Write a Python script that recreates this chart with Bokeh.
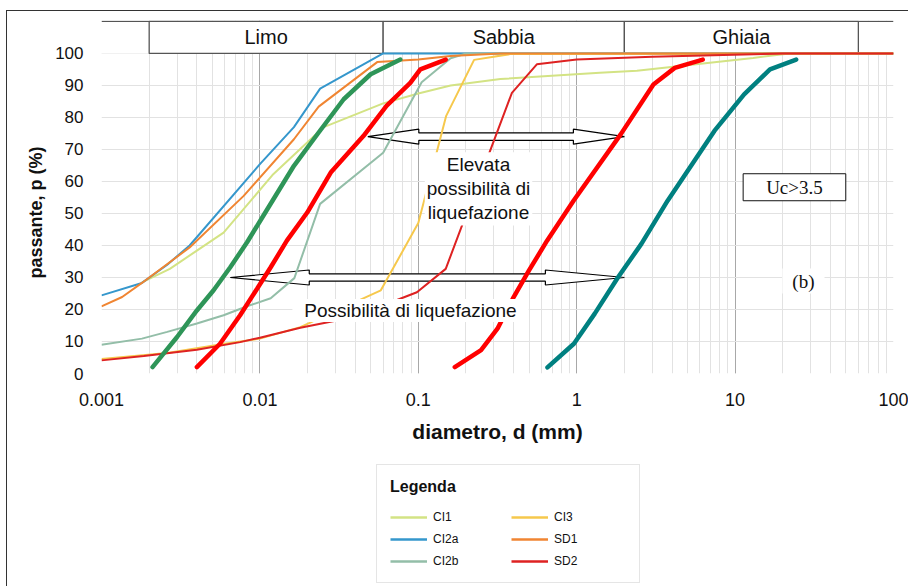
import math
from bokeh.plotting import figure
from bokeh.layouts import column
from bokeh.models import (Range1d, FixedTicker, CustomJSTickFormatter, Label, Span,
                          Legend, LegendItem, Title)
from bokeh.core.properties import value
from bokeh.embed import file_html
from bokeh.resources import INLINE

# ---------------- data ----------------
CI1_d = [0.0018, 0.0027, 0.004, 0.0059, 0.012, 0.0253, 0.06, 0.1, 0.16, 0.33, 1.4, 2.4, 13, 22, 100]
CI1_p = [28.5, 32.7, 38.4, 44.0, 62.0, 77.0, 84.4, 87.5, 90.0, 92.0, 94.0, 94.6, 98.6, 100, 100]

CI2a_d = [0.001, 0.0018, 0.0026, 0.0036, 0.01, 0.0164, 0.024, 0.06, 100]
CI2a_p = [24.4, 28.3, 34.0, 40.0, 65.4, 77.0, 89.0, 100, 100]

CI2b_d = [0.001, 0.0018, 0.0026, 0.004, 0.0059, 0.0083, 0.0117, 0.0165, 0.024, 0.06, 0.105, 0.16, 0.2, 100]
CI2b_p = [9.0, 10.9, 13.0, 15.6, 18.2, 21.0, 23.5, 29.8, 53.0, 69.0, 91.0, 98.5, 100, 100]

CI3_d = [0.001, 0.0026, 0.006, 0.01, 0.018, 0.058, 0.1, 0.15, 0.225, 0.38, 100]
CI3_p = [4.5, 6.4, 9.3, 10.9, 14.5, 26.0, 47.0, 80.5, 98.0, 99.8, 100]

SD1_d = [0.001, 0.00135, 0.0018, 0.0036, 0.0079, 0.0164, 0.0235, 0.055, 0.1, 0.16, 0.33, 100]
SD1_p = [21.0, 23.9, 28.3, 39.4, 55.5, 73.2, 83.4, 97.3, 98.1, 99.2, 100, 100]

SD2_d = [0.001, 0.00185, 0.004, 0.0075, 0.01, 0.018, 0.03, 0.058, 0.098, 0.149, 0.39, 0.56, 1.0, 3.0, 20, 100]
SD2_p = [4.1, 5.5, 7.4, 9.8, 11.2, 14.3, 16.5, 21.0, 25.4, 32.7, 87.7, 96.6, 98.1, 99.0, 100, 100]

# boundary curves (no legend)
GREEN_d = [0.0021, 0.003, 0.004, 0.0051, 0.0065, 0.0083, 0.0103, 0.0164, 0.0235, 0.0338, 0.05, 0.077]
GREEN_p = [2, 11.4, 19.7, 26, 33.2, 41, 48.6, 64.9, 75.3, 85.7, 93.5, 98.1]

RED1_d = [0.004, 0.0056, 0.0075, 0.0096, 0.0117, 0.0148, 0.0199, 0.028, 0.045, 0.063, 0.089, 0.103, 0.149]
RED1_p = [2, 9.3, 18.2, 26.5, 33.2, 41.5, 50.3, 62.8, 74.2, 83.6, 90.8, 95.0, 98.1]

RED2_d = [0.17, 0.249, 0.316, 0.4, 0.5, 0.65, 0.955, 1.9, 3.05, 4.16, 6.25]
RED2_p = [2, 7.3, 14, 23.9, 32.2, 41.5, 54, 74.8, 90.3, 95.5, 98.1]

TEAL_d = [0.654, 0.96, 1.3, 1.82, 2.56, 3.75, 7.4, 11.4, 16.6, 24.3]
TEAL_p = [1.9, 9.3, 18.7, 30, 40.5, 54, 75.8, 87.2, 95, 98.1]

# soil classes band
BAND_NAMES = ["Limo", "Sabbia", "Ghiaia"]
BAND_LIMITS = [0.002, 0.06, 2, 60]

# arrows
ARROW_FROM = [0.048, 0.0065]
ARROW_TO = [2.0, 2.0]
ARROW_Y = [74, 30]

Y_TICKS = [0, 10, 20, 30, 40, 50, 60, 70, 80, 90, 100]

# ---------------- layout / style ----------------
W, H1, H2 = 901, 440, 135
MB_L, MB_R, MB_T, MB_B = 94, 15, 9, 78
X_MIN, X_MAX = 0.001, 100
Y_MAX = 110.3
BAND_BOTTOM, BAND_TOP = 100, 110
SANS = "Liberation Sans"
SERIF = "Liberation Serif"
INK = "#111111"

p = figure(width=W, height=H1, x_axis_type="log",
           x_range=Range1d(X_MIN, X_MAX), y_range=Range1d(0, Y_MAX),
           output_backend="svg", toolbar_location=None,
           min_border_left=MB_L, min_border_right=MB_R,
           min_border_top=MB_T, min_border_bottom=MB_B)
p.outline_line_color = None
p.background_fill_color = "white"
p.border_fill_color = "white"

# grids
p.xgrid.grid_line_color = "#a8a8a8"
p.xgrid.minor_grid_line_color = "#e2e2e2"
p.ygrid.ticker = FixedTicker(ticks=Y_TICKS)
p.ygrid.grid_line_color = "#e2e2e2"

# axes
for ax in (p.xaxis[0], p.yaxis[0]):
    ax.axis_line_color = None
    ax.major_tick_line_color = None
    ax.minor_tick_line_color = None
    ax.major_label_text_font = SANS
    ax.major_label_text_color = INK
p.xaxis.major_label_text_font_size = "18px"
p.xaxis.major_label_standoff = 13
p.xaxis.formatter = CustomJSTickFormatter(code="return parseFloat(tick.toPrecision(6)).toString();")
p.xaxis.axis_label = "diametro, d (mm)"
p.xaxis.axis_label_text_font = SANS
p.xaxis.axis_label_text_font_style = "bold"
p.xaxis.axis_label_text_font_size = "21px"
p.xaxis.axis_label_standoff = 11
p.xaxis.axis_label_text_color = INK

p.yaxis.ticker = FixedTicker(ticks=Y_TICKS)
p.yaxis.major_label_text_font_size = "17px"
p.yaxis.major_label_standoff = 12

# y-axis title, placed along the 0-100 part of the scale
p.add_layout(Title(text="passante, p (%)", align="left", offset=95, standoff=14,
                   text_font=SANS, text_font_style="bold", text_font_size="18px",
                   text_color=INK), "left")

# band on top of the chart
p.quad(left=[X_MIN], right=[X_MAX], bottom=[BAND_BOTTOM], top=[Y_MAX],
       fill_color="white", line_color=None)
p.add_layout(Span(location=BAND_TOP, dimension="width", line_color="#555555", line_width=1.3))
p.quad(left=BAND_LIMITS[:-1], right=BAND_LIMITS[1:], bottom=BAND_BOTTOM, top=BAND_TOP,
       fill_color="white", line_color="#555555", line_width=1.3)
band_centers = [math.sqrt(a * b) for a, b in zip(BAND_LIMITS[:-1], BAND_LIMITS[1:])]
p.text(x=band_centers, y=[(BAND_BOTTOM + BAND_TOP) / 2] * len(BAND_NAMES), text=BAND_NAMES,
       text_align="center", text_baseline="middle", text_font=value(SANS),
       text_font_size="20px", text_color=INK)

# hollow double arrows
ppd = (W - MB_L - MB_R) / math.log10(X_MAX / X_MIN)
ppy = (H1 - MB_T - MB_B) / Y_MAX
HEAD_LEN = [51, 79]
HEAD_HALF, SHAFT_HALF = 7.5, 3.7
for xa, xb, y0, hl_px in zip(ARROW_FROM, ARROW_TO, ARROW_Y, HEAD_LEN):
    la, lb = math.log10(xa), math.log10(xb)
    hl = hl_px / ppd
    hh = HEAD_HALF / ppy
    sh = SHAFT_HALF / ppy
    lx = [la, la + hl, la + hl, lb - hl, lb - hl, lb, lb - hl, lb - hl, la + hl, la + hl]
    ly = [y0, y0 + hh, y0 + sh, y0 + sh, y0 + hh, y0, y0 - hh, y0 - sh, y0 - sh, y0 - hh]
    p.patch([10 ** v for v in lx], ly, fill_color="white", line_color="black", line_width=1.2)

# curves
thin = [("CI1", CI1_d, CI1_p, "#d3e384"),
        ("CI2a", CI2a_d, CI2a_p, "#3597cc"),
        ("CI2b", CI2b_d, CI2b_p, "#93bea8"),
        ("CI3", CI3_d, CI3_p, "#f6c84c"),
        ("SD1", SD1_d, SD1_p, "#f08532"),
        ("SD2", SD2_d, SD2_p, "#de2222")]
for name, xs, ys, col in thin:
    p.line(xs, ys, line_color=col, line_width=2)

p.line(GREEN_d, GREEN_p, line_color="#2e9558", line_width=4.5, line_cap="round")
p.line(RED1_d, RED1_p, line_color="#ff0000", line_width=4.5, line_cap="round")
p.line(RED2_d, RED2_p, line_color="#ff0000", line_width=4.5, line_cap="round")
p.line(TEAL_d, TEAL_p, line_color="#008080", line_width=4.5, line_cap="round")

# annotations
p.add_layout(Label(x=0.24, y=57.7, text="Elevata\npossibilità di\nliquefazione",
                   text_align="center", text_baseline="middle", text_font=SANS,
                   text_font_size="19px", text_line_height=1.15, text_color=INK,
                   background_fill_color="white", padding=2))
p.add_layout(Label(x=0.0893, y=19.7, text="Possibilità di liquefazione",
                   text_align="center", text_baseline="middle", text_font=SANS,
                   text_font_size="19px", text_color=INK,
                   background_fill_color="white",
                   padding=dict(left=12, right=12, top=1, bottom=1)))
p.add_layout(Label(x=23.7, y=58.2, text="Uc>3.5", text_align="center", text_baseline="middle",
                   text_font=SERIF, text_font_size="19px", text_color=INK,
                   background_fill_color="white", border_line_color=INK,
                   padding=dict(left=23, right=23, top=3, bottom=3)))
p.add_layout(Label(x=27, y=28.9, text="(b)", text_align="center", text_baseline="middle",
                   text_font=SERIF, text_font_size="19px", text_color=INK,
                   background_fill_color="white", padding=dict(left=10, right=10, top=2, bottom=2)))

# ---------------- legend strip (separate figure, series drawn out of view) ----------------
q = figure(width=W, height=H2, x_axis_type="log", x_range=Range1d(X_MIN, X_MAX),
           y_range=Range1d(-20, -10), output_backend="svg", toolbar_location=None,
           x_axis_location=None, y_axis_location=None, min_border=0)
q.outline_line_color = None
q.grid.visible = False
rends = {}
for name, xs, ys, col in thin:
    rends[name] = q.line(xs, ys, line_color=col, line_width=2.5)

order = ["CI1", "CI2a", "CI2b", "CI3", "SD1", "SD2"]
legend = Legend(items=[LegendItem(label=n, renderers=[rends[n]]) for n in order],
                ncols=2, title="Legenda", location=(275, 3))
legend.title_text_font = SANS
legend.title_text_font_style = "bold"
legend.title_text_font_size = "16px"
legend.title_text_color = INK
legend.title_standoff = 13
legend.label_text_font = SANS
legend.label_text_font_size = "12px"
legend.label_text_color = INK
legend.glyph_width = 37
legend.glyph_height = 16
legend.label_height = 16
legend.label_width = 72
legend.label_standoff = 6
legend.spacing = 6
legend.padding = 13
legend.margin = 0
legend.border_line_color = "#cccccc"
legend.border_line_width = 1
q.add_layout(legend)

layout = column(p, q, spacing=0,
                styles={"margin-left": "6px", "margin-top": "10px",
                        "border-top": "1px solid #333333", "border-left": "1px solid #333333"})

open("out.html", "w").write(file_html(layout, INLINE))
